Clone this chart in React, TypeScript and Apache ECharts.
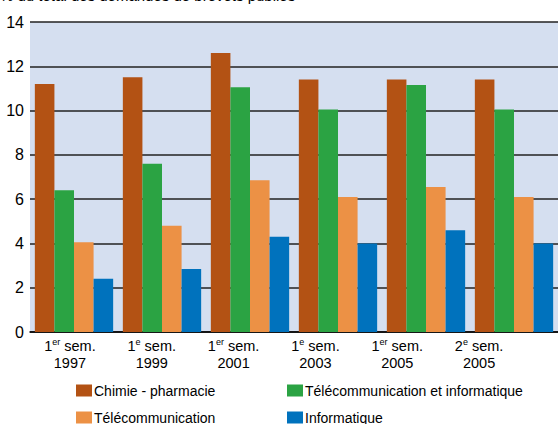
import React, { useEffect, useRef } from "react";
import * as echarts from "echarts";

const categories = [
  "{n|1}{s|er}{n| sem.}\n{n|1997}",
  "{n|1}{s|e}{n| sem.}\n{n|1999}",
  "{n|1}{s|er}{n| sem.}\n{n|2001}",
  "{n|1}{s|e}{n| sem.}\n{n|2003}",
  "{n|1}{s|er}{n| sem.}\n{n|2005}",
  "{n|2}{s|e}{n| sem.}\n{n|2005}",
];
const seriesNames = [
  "Chimie - pharmacie",
  "Télécommunication et informatique",
  "Télécommunication",
  "Informatique",
];
const chimie = [11.2, 11.5, 12.6, 11.4, 11.4, 11.4];
const telecomInfo = [6.4, 7.6, 11.05, 10.05, 11.15, 10.05];
const telecom = [4.05, 4.8, 6.85, 6.1, 6.55, 6.1];
const informatique = [2.4, 2.85, 4.3, 4.0, 4.6, 4.0];
const colors = ["#B35214", "#2BA343", "#EC9145", "#0072BD"];

export default function App() {
  const ref = useRef<HTMLDivElement>(null);
  useEffect(() => {
    if (!ref.current) return;
    const chart = echarts.init(ref.current, null, { renderer: "svg" });
    const font = "'Liberation Sans', Arial, sans-serif";
    const values = [chimie, telecomInfo, telecom, informatique];
    const legendCommon = {
      orient: "vertical",
      top: 382,
      height: 60,
      itemWidth: 16,
      itemHeight: 12,
      itemGap: 10,
      icon: "rect",
      padding: 0,
      textStyle: { fontFamily: font, fontSize: 14, lineHeight: 17, color: "#000", padding: [0, 0, 0, -3] },
    };
    chart.setOption({
      animation: false,
      title: {
        text: "% du total des demandes de brevets publiés",
        left: 0,
        top: -12,
        padding: 0,
        textStyle: { fontFamily: font, fontSize: 15, fontWeight: "normal", color: "#000" },
      },
      grid: [
        { left: 30, top: 22, width: 532, height: 310, backgroundColor: "#D5DFF0", show: true, borderWidth: 0, containLabel: false },
        { left: 29, top: 22, width: 491, height: 310, show: false, containLabel: false },
      ],
      xAxis: [
        {
          type: "category",
          gridIndex: 0,
          data: categories,
          axisLine: { show: true, lineStyle: { color: "#000", width: 1.5 } },
          axisTick: { show: false },
          axisLabel: { show: false },
        },
        {
          type: "category",
          gridIndex: 1,
          data: categories,
          axisLine: { show: false },
          axisTick: { show: false },
          axisLabel: {
            show: true,
            margin: 5,
            interval: 0,
            color: "#000",
            rich: {
              n: { fontFamily: font, fontSize: 14.5, lineHeight: 17, color: "#000" },
              s: { fontFamily: font, fontSize: 9, lineHeight: 17, verticalAlign: "top", color: "#000" },
            },
          },
        },
      ],
      yAxis: [
        {
          type: "value",
          gridIndex: 0,
          min: 0,
          max: 14,
          interval: 2,
          axisLine: { show: false },
          axisTick: { show: false },
          axisLabel: { margin: 6, color: "#000", fontFamily: font, fontSize: 16 },
          splitLine: { show: true, lineStyle: { color: "#222", width: 1.5 } },
        },
        { type: "value", gridIndex: 1, min: 0, max: 14, show: false },
      ],
      legend: [
        { ...legendCommon, data: [seriesNames[0], seriesNames[2]], left: 76 },
        { ...legendCommon, data: [seriesNames[1], seriesNames[3]], left: 287 },
      ],
      series: [
        ...seriesNames.map((name, i) => ({
          name,
          type: "bar",
          xAxisIndex: 0,
          yAxisIndex: 0,
          data: values[i],
          barGap: "0%",
          barCategoryGap: "11%",
          itemStyle: { color: colors[i] },
        })),
        {
          name: "labels",
          type: "bar",
          xAxisIndex: 1,
          yAxisIndex: 1,
          data: categories.map(() => null),
          silent: true,
        },
      ],
    });
    return () => chart.dispose();
  }, []);
  return <div ref={ref} style={{ width: 558, height: 424, position: "absolute", left: 0, top: 0 }} />;
}
